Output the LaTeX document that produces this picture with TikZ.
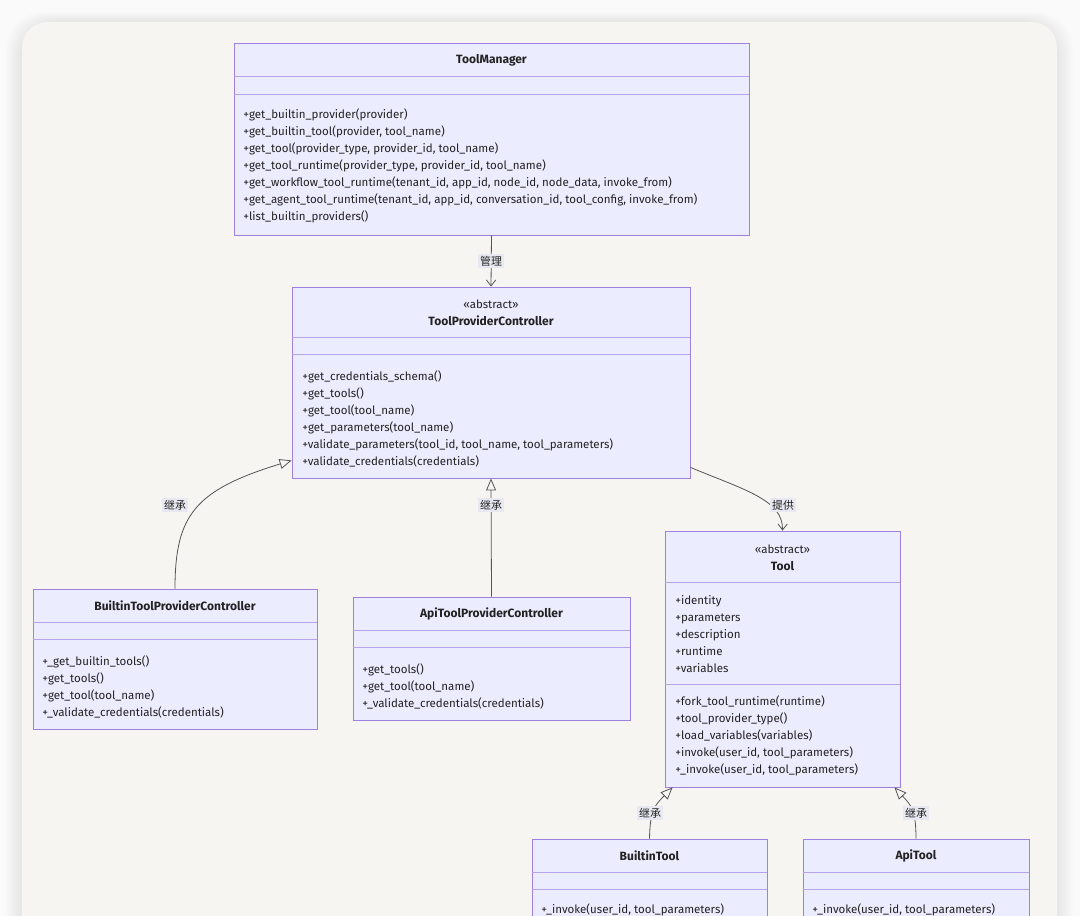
\documentclass[tikz,border=0pt]{standalone}
\usepackage{fontspec}
\setmainfont{Fira Sans}
\newfontfamily\cjk{Noto Sans CJK SC}
\usetikzlibrary{arrows.meta,calc}
\definecolor{boxfill}{HTML}{ECECFF}
\definecolor{boxline}{HTML}{9E80E0}
\definecolor{divcol}{HTML}{B7A3EA}
\definecolor{cardcol}{HTML}{F6F5F2}
\definecolor{edgecol}{HTML}{555555}
\definecolor{lblbg}{HTML}{E8E8F2}
\definecolor{txt}{HTML}{222222}
\begin{document}
\begin{tikzpicture}[x=0.75pt,y=-0.75pt,
  cls/.style={draw=boxline, fill=boxfill, line width=0.65pt, inner sep=0pt, rectangle},
  divl/.style={draw=divcol, line width=0.65pt},
  ttl/.style={font=\fontsize{9}{10}\selectfont\bfseries, text=txt, inner sep=0pt},
  ster/.style={font=\fontsize{8.6}{10}\selectfont, text=txt, inner sep=0pt},
  mem/.style={font=\fontsize{8.65}{12.75}\selectfont, text=txt, align=left, anchor=west, inner sep=0pt},
  lbl/.style={font=\cjk\fontsize{8.2}{10}\selectfont, text=txt, fill=lblbg, inner sep=1.2pt},
  inh/.style={draw=edgecol, line width=0.6pt, -{Triangle[open, length=9pt, width=7.5pt]}},
  assoc/.style={draw=edgecol, line width=0.6pt, -{Straight Barb[length=4.5pt, width=7pt]}}
]
\useasboundingbox (0,0) rectangle (1080,916);
\clip (0,0) rectangle (1080,916);
\fill[white!98!black] (0,0) rectangle (1080,916);
% card shadow
\foreach \i in {1,...,10}{
  \fill[black, opacity=0.008, rounded corners=28pt] (22-1.6*\i,22-1.0*\i) rectangle (1057+1.6*\i,1040);
}
\fill[cardcol, rounded corners=19pt] (22,22) rectangle (1057,1040);

% ToolManager
\node[cls, minimum width=386.25pt, minimum height=144pt] (tm) at (491.5,139) {};
\draw[divl] ($(tm.north west)+(0,34)$) -- ($(tm.north east)+(0,34)$);
\draw[divl] ($(tm.north west)+(0,52)$) -- ($(tm.north east)+(0,52)$);
\node[ttl] (tmT) at (491.5,60) {ToolManager};
\node[mem] (tmM) at (243,166) {+get\_builtin\_provider(provider)\\
+get\_builtin\_tool(provider, tool\_name)\\
+get\_tool(provider\_type, provider\_id, tool\_name)\\
+get\_tool\_runtime(provider\_type, provider\_id, tool\_name)\\
+get\_workflow\_tool\_runtime(tenant\_id, app\_id, node\_id, node\_data, invoke\_from)\\
+get\_agent\_tool\_runtime(tenant\_id, app\_id, conversation\_id, tool\_config, invoke\_from)\\
+list\_builtin\_providers()};

% ToolProviderController
\node[cls, minimum width=298.5pt, minimum height=143.25pt] (tpc) at (491,382.5) {};
\draw[divl] ($(tpc.north west)+(0,51)$) -- ($(tpc.north east)+(0,51)$);
\draw[divl] ($(tpc.north west)+(0,68)$) -- ($(tpc.north east)+(0,68)$);
\node[ster] (tpcS) at (491,304) {«abstract»};
\node[ttl] (tpcT) at (491,321) {ToolProviderController};
\node[mem] (tpcM) at (302,419) {+get\_credentials\_schema()\\
+get\_tools()\\
+get\_tool(tool\_name)\\
+get\_parameters(tool\_name)\\
+validate\_parameters(tool\_id, tool\_name, tool\_parameters)\\
+validate\_credentials(credentials)};

% BuiltinToolProviderController
\node[cls, minimum width=213pt, minimum height=105pt] (btpc) at (175,659) {};
\draw[divl] ($(btpc.north west)+(0,34)$) -- ($(btpc.north east)+(0,34)$);
\draw[divl] ($(btpc.north west)+(0,51)$) -- ($(btpc.north east)+(0,51)$);
\node[ttl] (btpcT) at (175,606) {BuiltinToolProviderController};
\node[mem] (btpcM) at (42,686.5) {+\_get\_builtin\_tools()\\
+get\_tools()\\
+get\_tool(tool\_name)\\
+\_validate\_credentials(credentials)};

% ApiToolProviderController
\node[cls, minimum width=207.75pt, minimum height=92.25pt] (atpc) at (491.5,658.5) {};
\draw[divl] ($(atpc.north west)+(0,34)$) -- ($(atpc.north east)+(0,34)$);
\draw[divl] ($(atpc.north west)+(0,51)$) -- ($(atpc.north east)+(0,51)$);
\node[ttl] (atpcT) at (491.5,614) {ApiToolProviderController};
\node[mem] (atpcM) at (362,686) {+get\_tools()\\
+get\_tool(tool\_name)\\
+\_validate\_credentials(credentials)};

% Tool
\node[cls, minimum width=176.25pt, minimum height=192pt] (tool) at (782.5,659) {};
\draw[divl] ($(tool.north west)+(0,52)$) -- ($(tool.north east)+(0,52)$);
\draw[divl] ($(tool.north west)+(0,154)$) -- ($(tool.north east)+(0,154)$);
\node[ster] (toolS) at (782.5,549) {«abstract»};
\node[ttl] (toolT) at (782.5,566) {Tool};
\node[mem] (toolA) at (675,634) {+identity\\
+parameters\\
+description\\
+runtime\\
+variables};
\node[mem] (toolM) at (675,736) {+fork\_tool\_runtime(runtime)\\
+tool\_provider\_type()\\
+load\_variables(variables)\\
+invoke(user\_id, tool\_parameters)\\
+\_invoke(user\_id, tool\_parameters)};

% BuiltinTool
\node[cls, minimum width=176.25pt, minimum height=90pt] (bt) at (649.5,899) {};
\draw[divl] ($(bt.north west)+(0,34)$) -- ($(bt.north east)+(0,34)$);
\draw[divl] ($(bt.north west)+(0,51)$) -- ($(bt.north east)+(0,51)$);
\node[ttl] (btT) at (649.5,856) {BuiltinTool};
\node[mem] (btM) at (541,910) {+\_invoke(user\_id, tool\_parameters)};

% ApiTool
\node[cls, minimum width=169.5pt, minimum height=90pt] (at) at (916,899) {};
\draw[divl] ($(at.north west)+(0,34)$) -- ($(at.north east)+(0,34)$);
\draw[divl] ($(at.north west)+(0,51)$) -- ($(at.north east)+(0,51)$);
\node[ttl] (atT) at (916,856) {ApiTool};
\node[mem] (atM) at (812,910) {+\_invoke(user\_id, tool\_parameters)};

% connectors
\draw[assoc] (tm.south) -- (tpc.north);
\node[lbl] (l1) at (491,261) {管理};

\draw[inh] (btpc.north) .. controls (175,515) and (195,490) .. ($(tpc.south west)+(0,-18)$);
\node[lbl] (l2) at (175,505) {继承};

\draw[inh] (atpc.north) -- (tpc.south);
\node[lbl] (l3) at (491,505) {继承};

\draw[assoc] ($(tpc.south east)+(0,-11)$) .. controls (745,490) and (783,500) .. (tool.north);
\node[lbl] (l4) at (783,505) {提供};

\draw[inh] (bt.north) .. controls (650,810) and (655,805) .. ($(tool.south west)+(8,0)$);
\node[lbl] (l5) at (650,813) {继承};

\draw[inh] (at.north) .. controls (916,810) and (911,805) .. ($(tool.south east)+(-6,0)$);
\node[lbl] (l6) at (916,813) {继承};
\end{tikzpicture}
\end{document}
